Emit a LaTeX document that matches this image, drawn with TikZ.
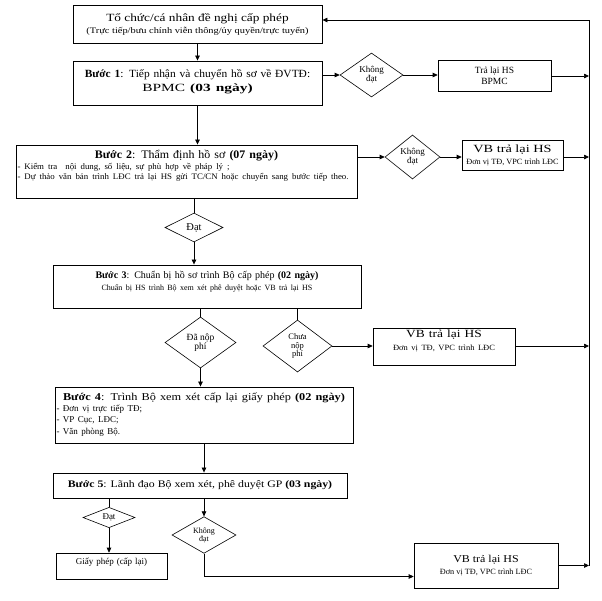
\documentclass[tikz,border=0pt]{standalone}
\usepackage{fontspec}
\usepackage{graphicx}
\setmainfont{Liberation Serif}
\usetikzlibrary{shapes.geometric, arrows.meta, positioning}

% horizontal stretch of one line
\newcommand{\wide}[2]{\scalebox{#1}[1]{#2}}

\begin{document}
\begin{tikzpicture}[x=1pt, y=-1pt,
    stepbox/.style={rectangle, draw=black, line width=0.9pt, inner sep=1pt},
    decision/.style={diamond, draw=black, line width=0.6pt, inner sep=0pt, align=center},
    backbox/.style={rectangle, draw=black, line width=0.6pt, inner sep=1pt, align=center},
    arrow/.style={-{Triangle[length=5pt, width=4.5pt]}, line width=0.7pt},
    link/.style={line width=0.7pt}
]
    \useasboundingbox (0,0) rectangle (602,600);

    % Request
    \node[stepbox, minimum width=249, minimum height=38, align=center] (req) at (197.5,24) {
        {\fontsize{11}{12}\selectfont\wide{1.21}{Tổ chức/cá nhân đề nghị cấp phép}}\\
        {\fontsize{8.5}{10}\selectfont\wide{1.22}{(Trực tiếp/bưu chính viễn thông/ủy quyền/trực tuyến)}}
    };

    % Step 1
    \node[stepbox, minimum width=249, minimum height=44, text width=246pt, align=center, font=\fontsize{11}{14}\selectfont] (step1) at (197.5,83) {
        \wide{1.04}{\textbf{Bước 1}: Tiếp nhận và chuyển hồ sơ về ĐVTĐ:}\\
        \wide{1.4}{BPMC \textbf{(03 ngày)}}\\[-9pt]
        \rule{0pt}{1pt}
    };
    \node[decision, minimum width=63, minimum height=44, font=\fontsize{9}{10}\selectfont] (nok1) at (371.5,75) {Không\\[-1pt]đạt};
    \node[backbox, minimum width=113, minimum height=31, font=\fontsize{9.5}{11}\selectfont] (back1) at (494.5,76) {Trả lại HS\\BPMC};

    % Step 2
    \node[stepbox, minimum width=341, minimum height=53, text width=338pt, align=left, font=\fontsize{11.5}{12.5}\selectfont] (step2) at (186.5,171.5) {
        \makebox[\linewidth]{\wide{1.04}{\textbf{Bước 2}: Thẩm định hồ sơ \textbf{(07 ngày)}}}\\
        \fontsize{8.5}{10.5}\selectfont
        \wide{1.04}{- Kiểm tra\ \ nội dung, số liệu, sự phù hợp về pháp lý ;}\\
        \wide{1.04}{- Dự thảo văn bản trình LĐC trả lại HS gửi TC/CN hoặc chuyển sang bước tiếp theo.}\\
        \rule{0pt}{1pt}
    };
    \node[decision, minimum width=55, minimum height=44, font=\fontsize{9}{10}\selectfont] (nok2) at (412.5,157) {Không\\[-1pt]đạt};
    \node[backbox, minimum width=101, minimum height=30] (back2) at (512.5,155) {
        {\fontsize{11}{12}\selectfont\wide{1.3}{VB trả lại HS}}\\
        {\fontsize{8}{9}\selectfont\wide{1.03}{Đơn vị TĐ, VPC trình LĐC}}
    };
    \node[decision, minimum width=58, minimum height=29, font=\fontsize{10.5}{11}\selectfont] (ok2) at (194,227.5) {Đạt};

    % Step 3
    \node[stepbox, minimum width=308, minimum height=43, text width=305pt, align=center, font=\fontsize{10}{11}\selectfont] (step3) at (207,286.5) {
        \textbf{Bước 3}: Chuẩn bị hồ sơ trình Bộ cấp phép \textbf{(02 ngày)}\\
        \fontsize{8}{12}\selectfont Chuẩn bị HS trình Bộ xem xét phê duyệt hoặc VB trả lại HS\\
        \rule{0pt}{1pt}
    };
    \node[decision, minimum width=71, minimum height=51, font=\fontsize{9.5}{10}\selectfont] (paid) at (200.5,342.5) {Đã nộp\\[-0.5pt]phí};
    \node[decision, minimum width=69, minimum height=52, font=\fontsize{8.5}{9}\selectfont] (unpaid) at (297.5,346) {Chưa\\[-0.5pt]nộp\\[-0.5pt]phí};
    \node[backbox, minimum width=142, minimum height=37, text width=139pt] (back3) at (444,346.5) {
        \fontsize{11}{12}\selectfont\wide{1.22}{VB trả lại HS}\\
        \fontsize{8}{13}\selectfont\wide{1.06}{Đơn vị TĐ, VPC trình LĐC}\\
        \rule{0pt}{1pt}
    };

    % Step 4
    \node[stepbox, minimum width=298, minimum height=56, text width=295pt, align=left, font=\fontsize{10.5}{12}\selectfont] (step4) at (204,415) {
        \makebox[\linewidth]{\wide{1.17}{\textbf{Bước 4}: Trình Bộ xem xét cấp lại giấy phép \textbf{(02 ngày)}}}\\
        \fontsize{9}{11}\selectfont
        - Đơn vị trực tiếp TĐ;\\
        - VP Cục, LĐC;\\
        - Văn phòng Bộ.
    };

    % Step 5
    \node[stepbox, minimum width=294, minimum height=25, font=\fontsize{10}{11}\selectfont] (step5) at (200,485.5) {
        \wide{1.18}{\textbf{Bước 5}: Lãnh đạo Bộ xem xét, phê duyệt GP \textbf{(03 ngày)}}
    };
    \node[decision, minimum width=52, minimum height=20, font=\fontsize{9}{10}\selectfont] (ok5) at (109,517.5) {Đạt};
    \node[backbox, minimum width=111, minimum height=26, text width=108pt, font=\fontsize{9}{9}\selectfont] (permit) at (111.5,566) {Giấy phép (cấp lại)\\
        \rule{0pt}{1pt}};
    \node[decision, minimum width=64, minimum height=36, font=\fontsize{8}{9}\selectfont] (nok5) at (204,535) {Không\\[-1pt]đạt};
    \node[backbox, minimum width=144, minimum height=45] (back5) at (486,565.5) {
        {\fontsize{10.5}{12}\selectfont\wide{1.14}{VB trả lại HS}}\\
        {\fontsize{8}{9}\selectfont\wide{1.03}{Đơn vị TĐ, VPC trình LĐC}}
    };

    % Return line
    \coordinate (rtop) at (589,20);
    \coordinate (rbot) at (back5.east -| rtop);

    % Connectors
    \draw[arrow] (req.south -| step1.north) -- (step1.north);
    \draw[arrow] (nok1.west -| step1.east) -- (nok1.west);
    \draw[arrow] (nok1.east) -- (nok1.east -| back1.west);
    \draw[arrow] (back1.east) -- (back1.east -| rtop);
    \draw[arrow] (step1.south) -- (step1.south |- step2.north);
    \draw[arrow] (nok2.west -| step2.east) -- (nok2.west);
    \draw[arrow] (nok2.east) -- (nok2.east -| back2.west);
    \draw[arrow] (nok2.east -| back2.east) -- (nok2.east -| rtop);
    \draw[link] (ok2.north |- step2.south) -- (ok2.north);
    \draw[arrow] (ok2.south) -- (ok2.south |- step3.north);
    \draw[link] (paid.north |- step3.south) -- (paid.north);
    \draw[link] (unpaid.north |- step3.south) -- (unpaid.north);
    \draw[arrow] (unpaid.east) -- (unpaid.east -| back3.west);
    \draw[arrow] (unpaid.east -| back3.east) -- (unpaid.east -| rtop);
    \draw[arrow] (paid.south) -- (paid.south |- step4.north);
    \draw[arrow] (step4.south) -- (step4.south |- step5.north);
    \draw[link] (ok5.north |- step5.south) -- (ok5.north);
    \draw[arrow] (ok5.south) -- (ok5.south |- permit.north);
    \draw[arrow] (nok5.north |- step5.south) -- (nok5.north);
    \draw[arrow] (nok5.south) |- ([yshift=-11pt]back5.west);
    \draw[arrow] (back5.east) -- (rbot);
    \draw[arrow] (rbot) -- (rtop) -- (rtop -| req.east);
\end{tikzpicture}
\end{document}
